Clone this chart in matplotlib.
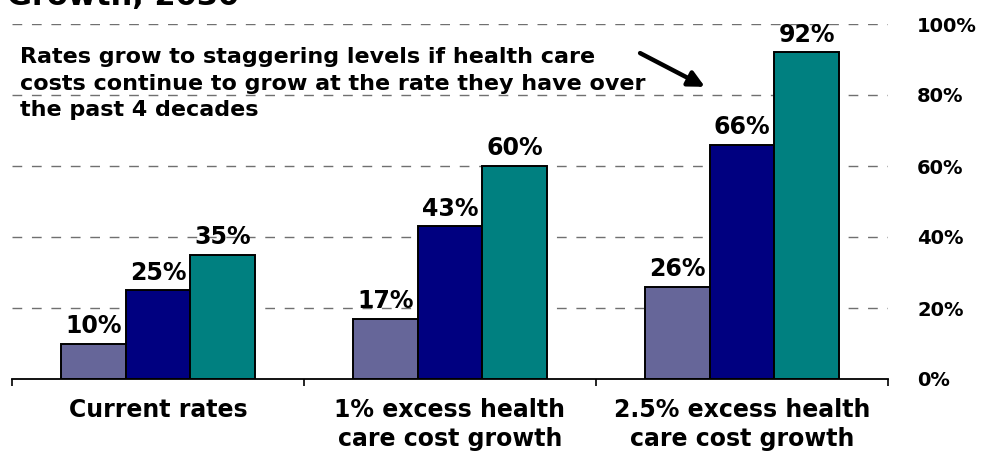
import matplotlib
matplotlib.use("Agg")
import matplotlib.pyplot as plt
import numpy as np

plt.rcParams["font.family"] = ["DejaVu Sans"]
plt.rcParams["font.weight"] = "bold"

# Scenarios along the x-axis
categories = ["Current rates",
              "1% excess health\ncare cost growth",
              "2.5% excess health\ncare cost growth"]

# Three bars per scenario (percent)
series_1 = [10, 17, 26]
series_2 = [25, 43, 66]
series_3 = [35, 60, 92]

series = [series_1, series_2, series_3]
colors = ["#666699", "#000080", "#008080"]

y_ticks = [0, 20, 40, 60, 80, 100]
y_tick_labels = ["0%", "20%", "40%", "60%", "80%", "100%"]

title_text = "Growth, 2030"
note_lines = ["Rates grow to staggering levels if health care",
              "costs continue to grow at the rate they have over",
              "the past 4 decades"]

W, H = 984, 451
fig = plt.figure(figsize=(W / 100, H / 100), dpi=100)
ax = fig.add_axes([12 / W, (H - 379) / H, 876 / W, 355 / H])

x = np.arange(len(categories))
bw = 0.222
offsets = [-bw, 0, bw]

for vals, col, off in zip(series, colors, offsets):
    bars = ax.bar(x + off, vals, width=bw, color=col, edgecolor="black",
                  linewidth=1.4, zorder=3)
    for b, v in zip(bars, vals):
        ax.annotate(f"{v}%", (b.get_x() + b.get_width() / 2, v),
                    xytext=(0, 4), textcoords="offset points",
                    ha="center", va="bottom", fontsize=17,
                    fontweight="bold", zorder=4)

ax.set_xlim(-0.5, len(categories) - 0.5)
ax.set_ylim(0, 100)

# dashed horizontal gridlines
for yv in y_ticks[1:]:
    ax.axhline(yv, color="#707070", linestyle=(0, (7, 7)), linewidth=1.0,
               zorder=1)

for s in ["left", "right", "top"]:
    ax.spines[s].set_visible(False)
ax.spines["bottom"].set_linewidth(1.3)
ax.spines["bottom"].set_zorder(5)

ax.set_xticks(x)
ax.set_xticklabels(categories, fontsize=17, fontweight="bold",
                   linespacing=1.25)
ax.tick_params(axis="x", which="major", length=0, pad=14)
ax.set_xticks(np.arange(-0.5, len(categories), 1.0), minor=True)
ax.tick_params(axis="x", which="minor", length=5, width=1.2,
               direction="out")

ax.yaxis.tick_right()
ax.set_yticks(y_ticks)
ax.set_yticklabels(y_tick_labels, fontsize=14, fontweight="bold")
ax.tick_params(axis="y", length=0, pad=21)

ax.annotate("", xy=(1.873, 82.3), xytext=(1.651, 91.8),
            arrowprops=dict(arrowstyle="-|>", color="black", lw=3.2,
                            mutation_scale=24, shrinkA=0, shrinkB=0))

for i, line in enumerate(note_lines):
    fig.text(20 / W, 1 - (63 + 26.5 * i) / H, line, fontsize=16,
             fontweight="bold", ha="left", va="baseline")

fig.text(7 / W, 1 - 5 / H, title_text, fontsize=22, fontweight="bold",
         ha="left", va="baseline")

fig.savefig("out.png", dpi=100)
